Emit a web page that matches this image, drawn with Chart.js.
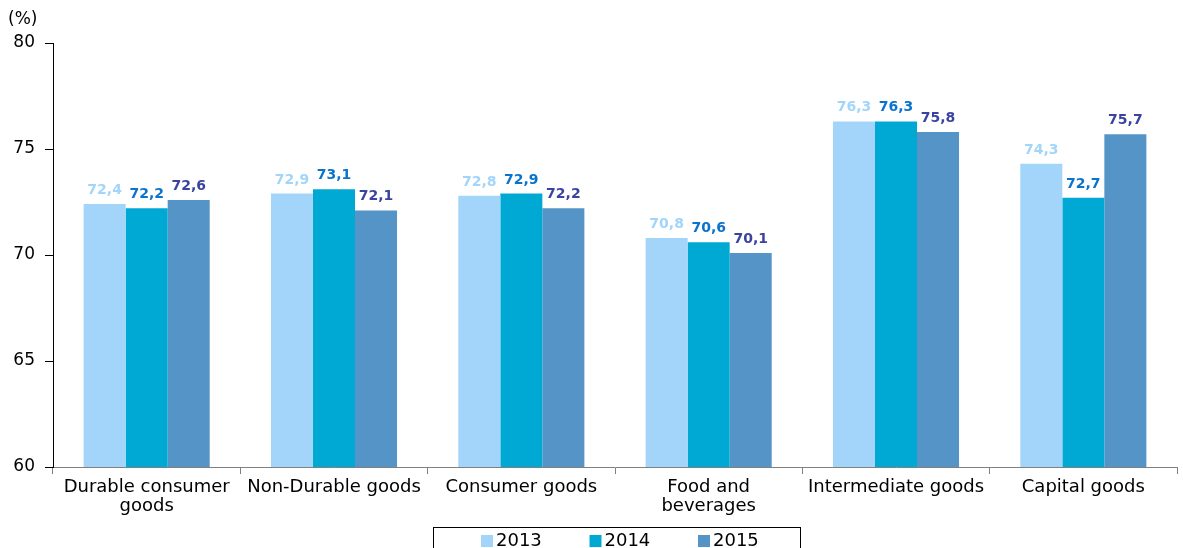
<!DOCTYPE html>
<html>
<head>
<meta charset="utf-8">
<script src="https://cdn.jsdelivr.net/npm/chart.js@4/dist/chart.umd.min.js"></script>
<style>
  html, body { margin: 0; padding: 0; background: #fff; }
  #wrap { position: relative; width: 1183px; height: 548px; }
</style>
</head>
<body>
<div id="wrap"><canvas id="c" width="1183" height="548"></canvas></div>
<script>
const categories = [['Durable consumer', 'goods'], 'Non-Durable goods', 'Consumer goods', ['Food and', 'beverages'], 'Intermediate goods', 'Capital goods'];
const seriesNames = ['2013', '2014', '2015'];
const values2013 = [72.4, 72.9, 72.8, 70.8, 76.3, 74.3];
const values2014 = [72.2, 73.1, 72.9, 70.6, 76.3, 72.7];
const values2015 = [72.6, 72.1, 72.2, 70.1, 75.8, 75.7];
const yTickValues = [60, 65, 70, 75, 80];
const unitLabel = '(%)';

const barColors = ['#A3D5FA', '#00A9D4', '#5594C6'];
const labelColors = ['#A3D5FA', '#0A74CC', '#3B43A0'];
const FONT = 'DejaVu Sans';

const seriesValues = [values2013, values2014, values2015];

const dataLabels = {
  id: 'dataLabels',
  afterDatasetsDraw(chart) {
    const ctx = chart.ctx;
    ctx.save();
    ctx.font = 'bold 14px "' + FONT + '"';
    ctx.textAlign = 'center';
    ctx.textBaseline = 'alphabetic';
    chart.data.datasets.forEach((ds, i) => {
      const meta = chart.getDatasetMeta(i);
      ctx.fillStyle = labelColors[i];
      meta.data.forEach((bar, j) => {
        const txt = ds.data[j].toFixed(1).replace('.', ',');
        ctx.fillText(txt, bar.x, bar.y - 10);
      });
    });
    ctx.restore();
  }
};

const extras = {
  id: 'extras',
  afterDraw(chart) {
    const ctx = chart.ctx;
    ctx.save();
    // unit label
    ctx.font = '17px "' + FONT + '"';
    ctx.fillStyle = '#000';
    ctx.textAlign = 'left';
    ctx.textBaseline = 'middle';
    ctx.fillText(unitLabel, 8, 20);
    // legend box
    ctx.strokeStyle = '#000';
    ctx.lineWidth = 1;
    ctx.strokeRect(433.5, 527.5, 367, 30);
    ctx.font = '18px "' + FONT + '"';
    ctx.textBaseline = 'middle';
    const startX = 481, pitch = 108.5, cy = 541;
    chart.data.datasets.forEach((ds, i) => {
      const x = startX + i * pitch;
      ctx.fillStyle = barColors[i];
      ctx.fillRect(x, cy - 6, 12, 12);
      ctx.fillStyle = '#000';
      ctx.fillText(ds.label, x + 15, cy);
    });
    ctx.restore();
  }
};

new Chart(document.getElementById('c'), {
  type: 'bar',
  data: {
    labels: categories,
    datasets: seriesNames.map((name, i) => ({
      label: name,
      data: seriesValues[i],
      backgroundColor: barColors[i],
      borderWidth: 0,
      categoryPercentage: 0.673,
      barPercentage: 1.0
    }))
  },
  options: {
    responsive: false,
    animation: false,
    devicePixelRatio: 1,
    layout: { padding: { top: 43, right: 6, left: 0, bottom: 0 } },
    plugins: {
      legend: { display: false },
      tooltip: { enabled: false },
      title: { display: false }
    },
    scales: {
      x: {
        grid: { offset: true, drawOnChartArea: false, drawTicks: true, tickLength: 7, color: '#808080', lineWidth: 1 },
        border: { display: true, color: '#808080', width: 1 },
        ticks: { color: '#000', font: { family: FONT, size: 18, lineHeight: 1.1 }, padding: 3, maxRotation: 0, autoSkip: false },
        afterFit(s) { s.height = 81; }
      },
      y: {
        min: 60,
        max: 80,
        afterBuildTicks(s) { s.ticks = yTickValues.map(v => ({ value: v })); },
        grid: { drawOnChartArea: false, drawTicks: true, tickLength: 8, color: '#000', lineWidth: 1 },
        border: { display: true, color: '#000', width: 1 },
        ticks: { color: '#000', font: { family: FONT, size: 17 }, padding: 10 },
        afterFit(s) { s.width = 53; }
      }
    }
  },
  plugins: [dataLabels, extras]
});
</script>
</body>
</html>
